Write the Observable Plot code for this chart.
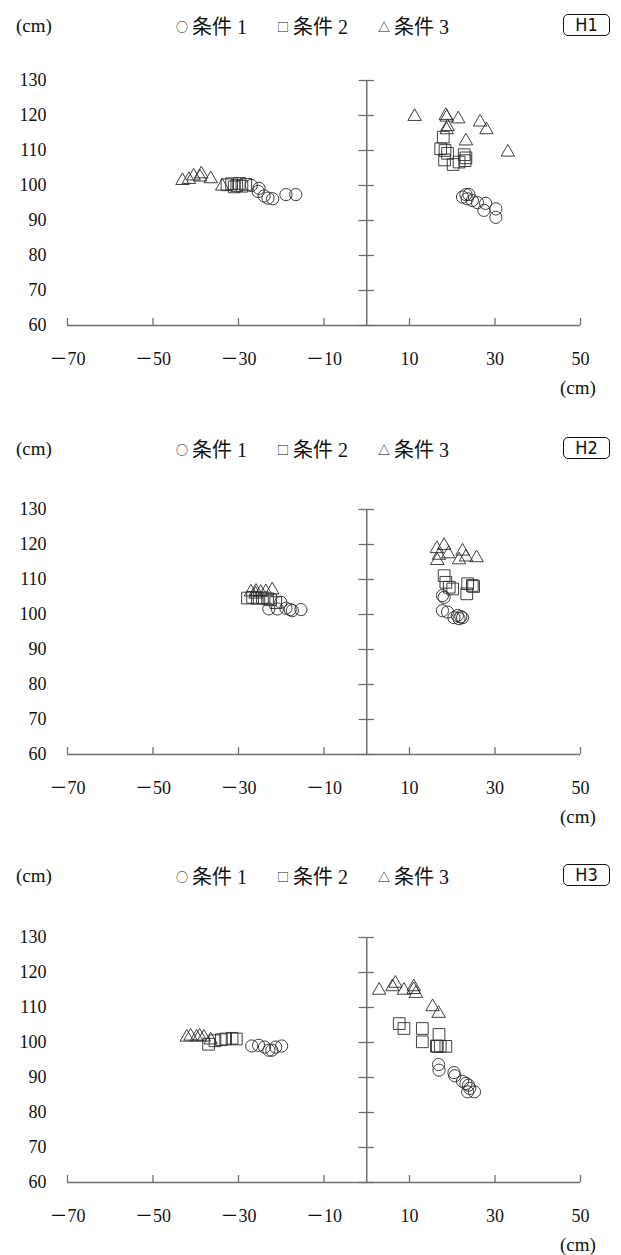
<!DOCTYPE html>
<html><head><meta charset="utf-8">
<script src="https://cdn.jsdelivr.net/npm/d3@7"></script>
<script src="https://cdn.jsdelivr.net/npm/@observablehq/plot@0.6"></script>
<style>
html,body{margin:0;padding:0;background:#fff;overflow:hidden;}
#page{position:relative;width:621px;height:1255px;overflow:hidden;font-family:"Liberation Serif","Noto Sans CJK JP",serif;color:#111;}
.abs{position:absolute;white-space:nowrap;}
.unit{font-size:19px;line-height:20px;}
.leg{font-size:20px;line-height:24px;font-family:"Liberation Serif","Noto Sans CJK JP",serif;}
.leg .item{display:inline-block;margin-right:30px;}
.leg .sym{font-family:"Noto Sans CJK JP",sans-serif;font-size:12px;margin-right:4px;position:relative;top:-2px;}
.leg .cj{font-family:"Noto Sans CJK JP",sans-serif;}
.badge{border:1.6px solid #111;border-radius:5px;width:45px;height:20px;font-family:"Liberation Sans Narrow","DejaVu Sans Condensed",Roboto,sans-serif;font-size:18px;text-align:center;line-height:20px;}
</style>
</head><body><div id="page"></div>
<script>
const conditions = ["条件 1", "条件 2", "条件 3"];
const symbolsText = ["○", "□", "△"];
const panelNames = ["H1", "H2", "H3"];
const xTicks = [-70, -50, -30, -10, 10, 30, 50];
const yTicks = [60, 70, 80, 90, 100, 110, 120, 130];

// H1
const h1c1 = [[-27.0,100.0],[-25.2,99.2],[-25.4,98.3],[-24.0,97.0],[-23.1,96.4],[-22.0,96.2],[-18.9,97.4],[-16.6,97.4],
  [22.4,96.7],[23.2,97.4],[23.9,97.4],[23.5,96.2],[24.7,95.7],[25.9,95.1],[27.8,94.9],[27.4,92.9],[30.2,93.3],[30.2,90.9]];
const h1c2 = [[-32.7,100.2],[-31.6,100.5],[-30.4,100.0],[-29.2,99.8],[-28.3,100.3],[-31.0,99.6],[-29.8,100.6],
  [17.9,113.8],[17.3,110.5],[18.3,110.0],[18.9,109.2],[18.2,107.3],[20.2,106.0],[21.6,106.7],[22.8,108.8],[23.2,107.9],[23.0,107.1]];
const h1c3 = [[-43.1,101.4],[-41.6,101.7],[-40.5,102.7],[-38.7,103.3],[-39.0,102.4],[-36.5,101.9],[-33.8,99.8],
  [11.2,119.7],[18.5,120.0],[18.7,119.5],[21.4,119.0],[26.5,118.1],[28.0,115.9],[18.7,115.9],[18.9,116.8],[23.2,112.7],[33.0,109.5]];
// H2
const h2c1 = [[-22.9,101.6],[-20.9,101.6],[-20.1,103.5],[-18.9,101.8],[-17.9,101.4],[-17.4,101.1],[-15.4,101.4],
  [17.7,105.4],[18.1,104.9],[17.7,101.1],[18.9,100.7],[20.4,99.1],[21.2,99.7],[22.0,99.4],[22.4,99.1],[21.6,98.8]];
const h2c2 = [[-27.9,104.7],[-26.7,104.9],[-25.6,104.6],[-24.4,104.8],[-23.2,104.5],[-22.5,104.2],[-21.3,103.4],
  [18.1,111.1],[18.5,109.2],[19.3,107.8],[20.1,107.3],[23.6,108.8],[24.7,108.3],[25.0,108.0],[23.4,105.9]];
const h2c3 = [[-27.1,106.4],[-25.9,106.6],[-24.8,106.3],[-23.6,106.5],[-22.1,107.0],[-26.0,105.8],
  [16.4,118.8],[18.1,119.7],[19.1,117.3],[16.9,116.9],[16.5,115.4],[22.4,118.1],[23.2,116.4],[21.6,115.6],[25.7,116.2]];
// H3
const h3c1 = [[-26.9,99.0],[-25.3,99.2],[-23.9,98.7],[-22.9,97.8],[-22.2,97.8],[-21.3,98.7],[-19.9,99.0],
  [16.8,93.7],[16.9,92.1],[20.4,91.4],[20.6,90.5],[22.4,88.9],[23.2,88.3],[23.8,87.8],[24.1,86.9],[23.6,85.9],[25.2,85.9]];
const h3c2 = [[-37.0,99.5],[-35.5,100.5],[-34.0,100.8],[-33.0,101.0],[-31.5,101.2],[-30.5,101.0],
  [7.6,105.4],[8.7,104.0],[13.0,104.0],[13.0,100.2],[16.9,102.3],[16.5,98.9],[17.2,98.9],[18.5,98.9],[16.3,99.0]];
const h3c3 = [[-42.1,101.5],[-41.2,101.8],[-39.8,101.5],[-39.1,101.8],[-38.1,101.5],[-36.5,100.7],
  [2.9,114.9],[6.0,115.9],[6.7,116.9],[8.7,114.9],[11.0,115.1],[11.5,114.0],[11.0,115.9],[15.4,110.2],[16.8,108.3]];

const panels = [[h1c1,h1c2,h1c3],[h2c1,h2c2,h2c3],[h3c1,h3c2,h3c3]];

// layout (page pixels)
const base60 = [325, 753.5, 1182.3];
const headerY = [26, 449, 876];
const MT = 10, PH = 245, MB = 75;
const axisColor = "#707070";
const markColor = "#2b2b2b";
const fmt = d => d < 0 ? "－" + Math.abs(d) : String(d);

const page = document.getElementById("page");

function add(html, cls, style) {
  const el = document.createElement("div");
  el.className = "abs " + cls;
  el.innerHTML = html;
  Object.assign(el.style, style);
  page.appendChild(el);
  return el;
}

panels.forEach((series, k) => {
  const [c1, c2, c3] = series;
  const chart = Plot.plot({
    width: 621, height: MT + PH + MB,
    marginLeft: 67, marginRight: 41, marginTop: MT, marginBottom: MB,
    x: {domain: [-70, 50]},
    y: {domain: [60, 130]},
    style: {fontFamily: '"Liberation Serif","Noto Sans CJK JP",serif', fontSize: "18px", color: "#111", background: "transparent", overflow: "visible"},
    marks: [
      Plot.axisY({ticks: yTicks, anchor: "left", tickSize: 0, tickPadding: 21, fontSize: 18}),
      Plot.axisX({ticks: xTicks, anchor: "bottom", tickSize: 0, tickPadding: 27, fontSize: 18, tickFormat: fmt}),
      Plot.ruleY([60], {x1: -70, x2: 50, stroke: axisColor, strokeWidth: 1.5}),
      Plot.ruleX(xTicks, {x: d => d, y1: 60, y2: 62, stroke: axisColor, strokeWidth: 1.3}),
      Plot.ruleX([0], {y1: 60, y2: 130, stroke: axisColor, strokeWidth: 1.5}),
      Plot.ruleY(yTicks, {y: d => d, x1: -1.8, x2: 1.8, stroke: axisColor, strokeWidth: 1.3}),
      Plot.dot(c1, {x: d => d[0], y: d => d[1], symbol: "circle", r: 6.1, stroke: markColor, strokeWidth: 1, strokeOpacity: 0.9, fill: "none"}),
      Plot.dot(c2, {x: d => d[0], y: d => d[1], symbol: "square", r: 6.6, stroke: markColor, strokeWidth: 1, strokeOpacity: 0.9, fill: "none"}),
      Plot.dot(c3, {x: d => d[0], y: d => d[1], symbol: "triangle", r: 5.0, stroke: markColor, strokeWidth: 1, strokeOpacity: 0.9, fill: "none"})
    ]
  });
  const holder = document.createElement("div");
  holder.className = "abs";
  holder.style.left = "0px";
  holder.style.top = (base60[k] - MT - PH) + "px";
  holder.appendChild(chart);
  page.appendChild(holder);

  // header row
  add("(cm)", "unit", {left: "16px", top: (headerY[k] - 10) + "px"});
  const legHtml = conditions.map((c, i) => {
    const [word, num] = c.split(" ");
    return `<span class="item"><span class="sym">${symbolsText[i]}</span><span class="cj">${word}</span> ${num}</span>`;
  }).join("");
  add(legHtml, "leg", {left: "176px", top: (headerY[k] - 12) + "px"});
  add(panelNames[k], "badge", {left: "563px", top: (headerY[k] - 12) + "px"});
  // x unit under axis
  add("(cm)", "unit", {left: "560px", top: (base60[k] + 53) + "px"});
});
</script>
</body></html>
